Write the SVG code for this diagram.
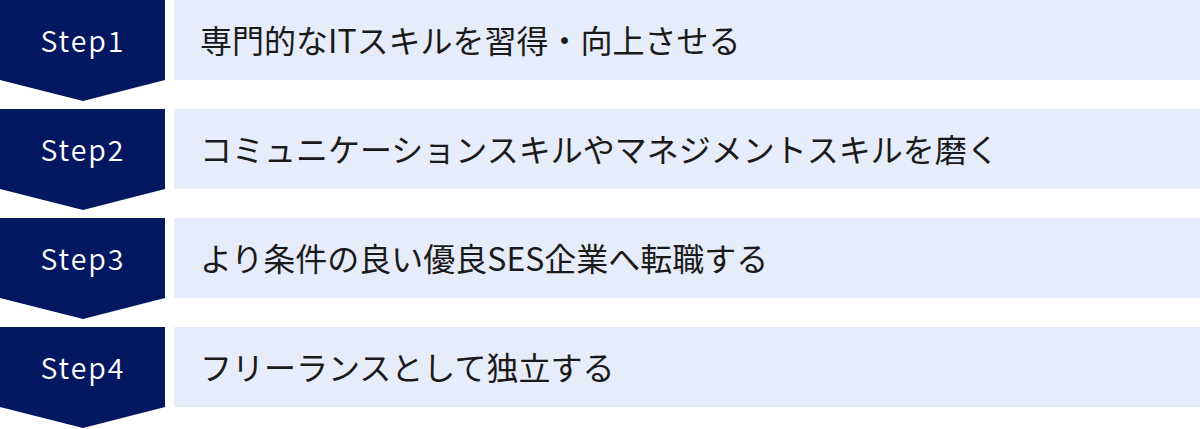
<svg xmlns="http://www.w3.org/2000/svg" width="1200" height="429" viewBox="0 0 1200 429">
<style>
.badge{fill:#041862}
.box{fill:#E6ECF9}
.st{font-family:"Noto Sans CJK JP","Noto Sans",sans-serif;font-size:28.5px;font-weight:350;fill:#ffffff;letter-spacing:2px;text-anchor:middle}
.tx{font-family:"Noto Sans CJK JP","Noto Sans",sans-serif;font-size:32px;fill:#1a1a1a}
</style>
<rect width="1200" height="429" fill="#ffffff"/>
<g id="step1">
<polygon class="badge" points="0,0 165,0 165,80 83,101 0,80"/>
<rect class="box" x="174" y="0" width="1026" height="80"/>
<text class="st" x="83" y="52">Step1</text>
<text class="tx" x="200" y="53">専門的なITスキルを習得・向上させる</text>
</g>
<g id="step2">
<polygon class="badge" points="0,109 165,109 165,189 83,210 0,189"/>
<rect class="box" x="174" y="109" width="1026" height="80"/>
<text class="st" x="83" y="161">Step2</text>
<text class="tx" x="200" y="162">コミュニケーションスキルやマネジメントスキルを磨く</text>
</g>
<g id="step3">
<polygon class="badge" points="0,218 165,218 165,298 83,319 0,298"/>
<rect class="box" x="174" y="218" width="1026" height="80"/>
<text class="st" x="83" y="270">Step3</text>
<text class="tx" x="200" y="271">より条件の良い優良SES企業へ転職する</text>
</g>
<g id="step4">
<polygon class="badge" points="0,327 165,327 165,407 83,428 0,407"/>
<rect class="box" x="174" y="327" width="1026" height="80"/>
<text class="st" x="83" y="379">Step4</text>
<text class="tx" x="200" y="380">フリーランスとして独立する</text>
</g>
<g id="connectors"></g>
</svg>
